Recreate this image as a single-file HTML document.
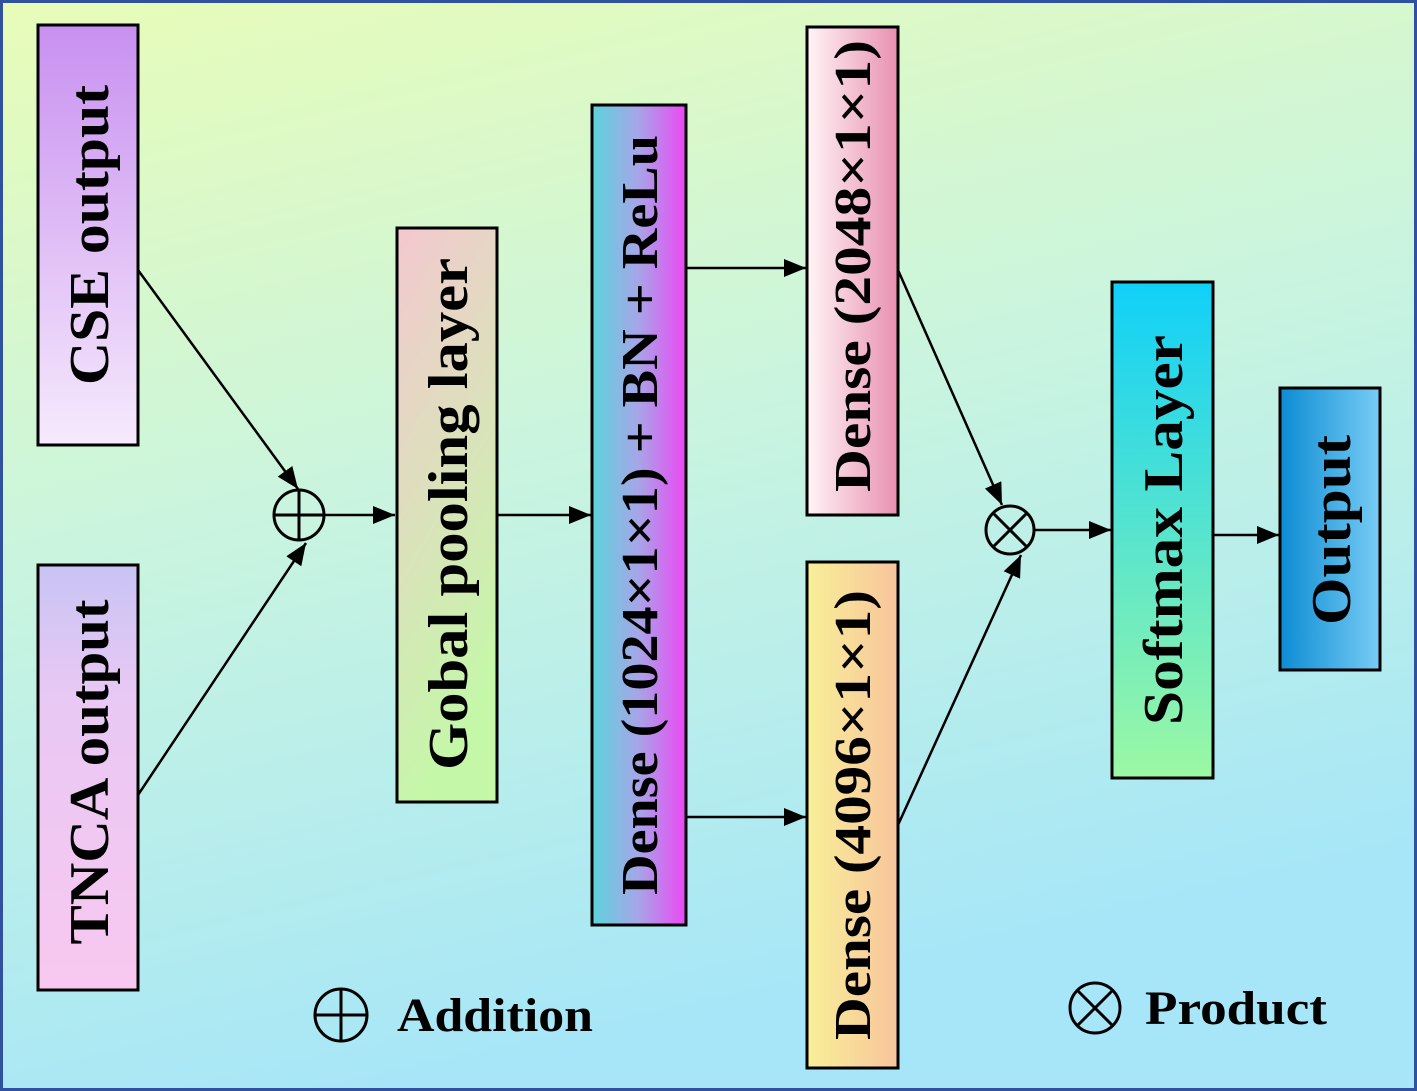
<!DOCTYPE html>
<html><head><meta charset="utf-8"><style>
html,body{margin:0;padding:0;}
svg{display:block;}
text{font-family:"Liberation Serif",serif;font-weight:bold;fill:#000;}
</style></head><body>
<svg width="1417" height="1091" viewBox="0 0 1417 1091" xmlns="http://www.w3.org/2000/svg">
<defs>
<linearGradient id="bg" x1="0" y1="0" x2="0.3" y2="1"><stop offset="0" stop-color="#e8fcb8"/><stop offset="0.5" stop-color="#c8f4e0"/><stop offset="1" stop-color="#a6e6f8"/></linearGradient>
<linearGradient id="cse" x1="0" y1="0" x2="0" y2="1"><stop offset="0" stop-color="#c890f0"/><stop offset="1" stop-color="#f6eafc"/></linearGradient>
<linearGradient id="tnca" x1="0" y1="0" x2="0" y2="1"><stop offset="0" stop-color="#c8c4f4"/><stop offset="0.3" stop-color="#e8c8f4"/><stop offset="1" stop-color="#f8c8f0"/></linearGradient>
<linearGradient id="gob" x1="0" y1="0" x2="0.3" y2="1"><stop offset="0" stop-color="#f4c8d0"/><stop offset="1" stop-color="#c4f8a8"/></linearGradient>
<linearGradient id="d1" x1="0" y1="0" x2="1" y2="0"><stop offset="0" stop-color="#5cd4dc"/><stop offset="0.5" stop-color="#a8a4e8"/><stop offset="1" stop-color="#ec48f4"/></linearGradient>
<linearGradient id="d2" x1="0" y1="0" x2="1" y2="0"><stop offset="0" stop-color="#fff4f6"/><stop offset="1" stop-color="#e890b0"/></linearGradient>
<linearGradient id="d4" x1="0" y1="0" x2="1" y2="0"><stop offset="0" stop-color="#f8f098"/><stop offset="1" stop-color="#f8c49c"/></linearGradient>
<linearGradient id="sm" x1="0" y1="0" x2="0" y2="1"><stop offset="0" stop-color="#10d0f8"/><stop offset="1" stop-color="#9cf8a4"/></linearGradient>
<linearGradient id="out" x1="0" y1="0" x2="1" y2="0"><stop offset="0" stop-color="#0c8cd4"/><stop offset="1" stop-color="#78ccf4"/></linearGradient>
<marker id="ah" markerWidth="22" markerHeight="18" refX="22" refY="9" orient="auto" markerUnits="userSpaceOnUse" viewBox="0 0 22 18"><path d="M0,0 L22,9 L0,18 z" fill="#000"/></marker>
</defs>
<rect x="1.5" y="1.5" width="1414" height="1088" fill="url(#bg)" stroke="#3050a0" stroke-width="3"/>
<g stroke="#000" stroke-width="3">
<rect x="38" y="25" width="100" height="420" fill="url(#cse)"/>
<rect x="38" y="565" width="100" height="425" fill="url(#tnca)"/>
<rect x="397" y="228" width="100" height="574" fill="url(#gob)"/>
<rect x="592" y="105" width="94" height="820" fill="url(#d1)"/>
<rect x="807" y="27" width="91" height="488" fill="url(#d2)"/>
<rect x="807" y="562" width="91" height="506" fill="url(#d4)"/>
<rect x="1112" y="282" width="101" height="496" fill="url(#sm)"/>
<rect x="1280" y="388" width="100" height="282" fill="url(#out)"/>
</g>
<g stroke="#000" stroke-width="2.5" fill="none" marker-end="url(#ah)">
<line x1="138" y1="270" x2="298" y2="489"/>
<line x1="138" y1="795" x2="306" y2="543"/>
<line x1="324" y1="515" x2="395" y2="515"/>
<line x1="497" y1="515" x2="591" y2="515"/>
<line x1="686" y1="268" x2="806" y2="268"/>
<line x1="686" y1="817" x2="806" y2="817"/>
<line x1="898" y1="270" x2="1002" y2="505"/>
<line x1="898" y1="825" x2="1021" y2="555"/>
<line x1="1034" y1="530" x2="1111" y2="530"/>
<line x1="1213" y1="535" x2="1279" y2="535"/>
</g>
<g stroke="#000" stroke-width="3" fill="none">
<circle cx="299" cy="515" r="25"/><line x1="274" y1="515" x2="324" y2="515"/><line x1="299" y1="490" x2="299" y2="540"/>
<circle cx="1010" cy="530" r="24"/><line x1="993" y1="513" x2="1027" y2="547"/><line x1="1027" y1="513" x2="993" y2="547"/>
<circle cx="341" cy="1015" r="26"/><line x1="315" y1="1015" x2="367" y2="1015"/><line x1="341" y1="989" x2="341" y2="1041"/>
<circle cx="1095" cy="1008" r="25"/><line x1="1077" y1="990" x2="1113" y2="1026"/><line x1="1113" y1="990" x2="1077" y2="1026"/>
</g>
<g font-size="56" text-anchor="middle">
<text transform="translate(108,235) rotate(-90)" textLength="300" lengthAdjust="spacingAndGlyphs">CSE output</text>
<text transform="translate(108,772) rotate(-90)" textLength="345" lengthAdjust="spacingAndGlyphs">TNCA output</text>
<text transform="translate(467,514) rotate(-90)" textLength="512" lengthAdjust="spacingAndGlyphs">Gobal pooling layer</text>
<text transform="translate(657,515) rotate(-90)" font-size="52" textLength="760" lengthAdjust="spacingAndGlyphs">Dense (1024×1×1) + BN + ReLu</text>
<text transform="translate(870,266) rotate(-90)" font-size="52" textLength="452" lengthAdjust="spacingAndGlyphs">Dense (2048×1×1)</text>
<text transform="translate(870,815) rotate(-90)" font-size="52" textLength="450" lengthAdjust="spacingAndGlyphs">Dense (4096×1×1)</text>
<text transform="translate(1182,530) rotate(-90)" textLength="390" lengthAdjust="spacingAndGlyphs">Softmax Layer</text>
<text transform="translate(1350,530) rotate(-90)" textLength="190" lengthAdjust="spacingAndGlyphs">Output</text>
</g>
<text x="397" y="1031" font-size="48" textLength="196" lengthAdjust="spacingAndGlyphs">Addition</text>
<text x="1145" y="1024" font-size="48" textLength="182" lengthAdjust="spacingAndGlyphs">Product</text>
</svg>
</body></html>
